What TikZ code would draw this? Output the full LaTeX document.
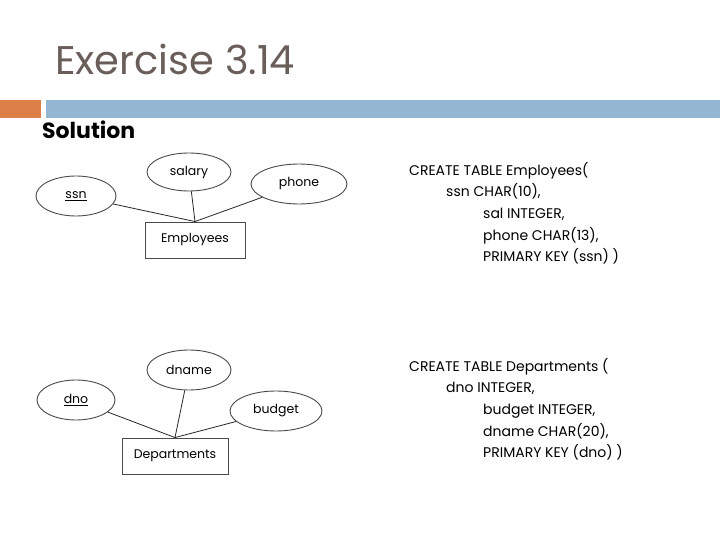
\documentclass[tikz,border=0pt]{standalone}
\usepackage{fontspec}
\setmainfont{Poppins}
\usepackage{tikz}
\usetikzlibrary{shapes.geometric}

\definecolor{titlegray}{HTML}{6A5E5A}
\definecolor{barorange}{HTML}{DD8047}
\definecolor{barblue}{HTML}{94B6D2}
\definecolor{shapegray}{HTML}{4A4A4A}

\begin{document}
\begin{tikzpicture}[
  x=1pt, y=-1pt,
  attr/.style={draw=shapegray, line width=0.9pt, ellipse, inner sep=0pt, minimum height=40pt, font=\fontsize{12.5}{14}\selectfont},
  entity/.style={draw=shapegray, line width=0.9pt, rectangle, inner sep=0pt, minimum height=36pt, font=\fontsize{12.5}{14}\selectfont},
  link/.style={draw=black!85, line width=0.8pt},
  sql/.style={align=left, anchor=north west, inner sep=0pt, font=\fontsize{14}{21.6}\selectfont}
]
\useasboundingbox (0,0) rectangle (720,540);

% header
\node[anchor=base west, inner sep=0pt, text=titlegray, font=\fontsize{40}{44}\selectfont] (title) at (55,75) {Exercise 3.14};
\fill[barorange] (0,100) rectangle (41,118);
\fill[barblue] (46,100) rectangle (720,118);
\node[anchor=base west, inner sep=0pt, font=\fontsize{22}{24}\selectfont\bfseries] (sol) at (42,139) {Solution};

% Employees
\node[entity, minimum width=100pt] (emp) at (195,240) {Employees};
\node[attr, minimum width=80pt] (ssn) at (76,196) {\underline{ssn}};
\node[attr, minimum width=84pt, minimum height=38pt] (salary) at (189,172) {salary};
\node[attr, minimum width=96pt] (phone) at (299,184) {phone};
\draw[link] (ssn) -- (emp.north);
\draw[link] (salary) -- (emp.north);
\draw[link] (phone) -- (emp.north);

% Departments
\node[entity, minimum width=106pt] (dept) at (175,456) {Departments};
\node[attr, minimum width=78pt] (dno) at (76,400) {\underline{dno}};
\node[attr, minimum width=84pt] (dname) at (189,370) {dname};
\node[attr, minimum width=92pt] (budget) at (276,411) {budget};
\draw[link] (dno) -- (dept.north);
\draw[link] (dname) -- (dept.north);
\draw[link] (budget) -- (dept.north);

% tables
\node[sql] (emptable) at (409,162) {CREATE TABLE Employees(\\
\hspace*{37pt}ssn CHAR(10),\\
\hspace*{74pt}sal INTEGER,\\
\hspace*{74pt}phone CHAR(13),\\
\hspace*{74pt}PRIMARY KEY (ssn) )};
\node[sql] (depttable) at (409,358) {CREATE TABLE Departments (\\
\hspace*{37pt}dno INTEGER,\\
\hspace*{74pt}budget INTEGER,\\
\hspace*{74pt}dname CHAR(20),\\
\hspace*{74pt}PRIMARY KEY (dno) )};
\end{tikzpicture}
\end{document}
